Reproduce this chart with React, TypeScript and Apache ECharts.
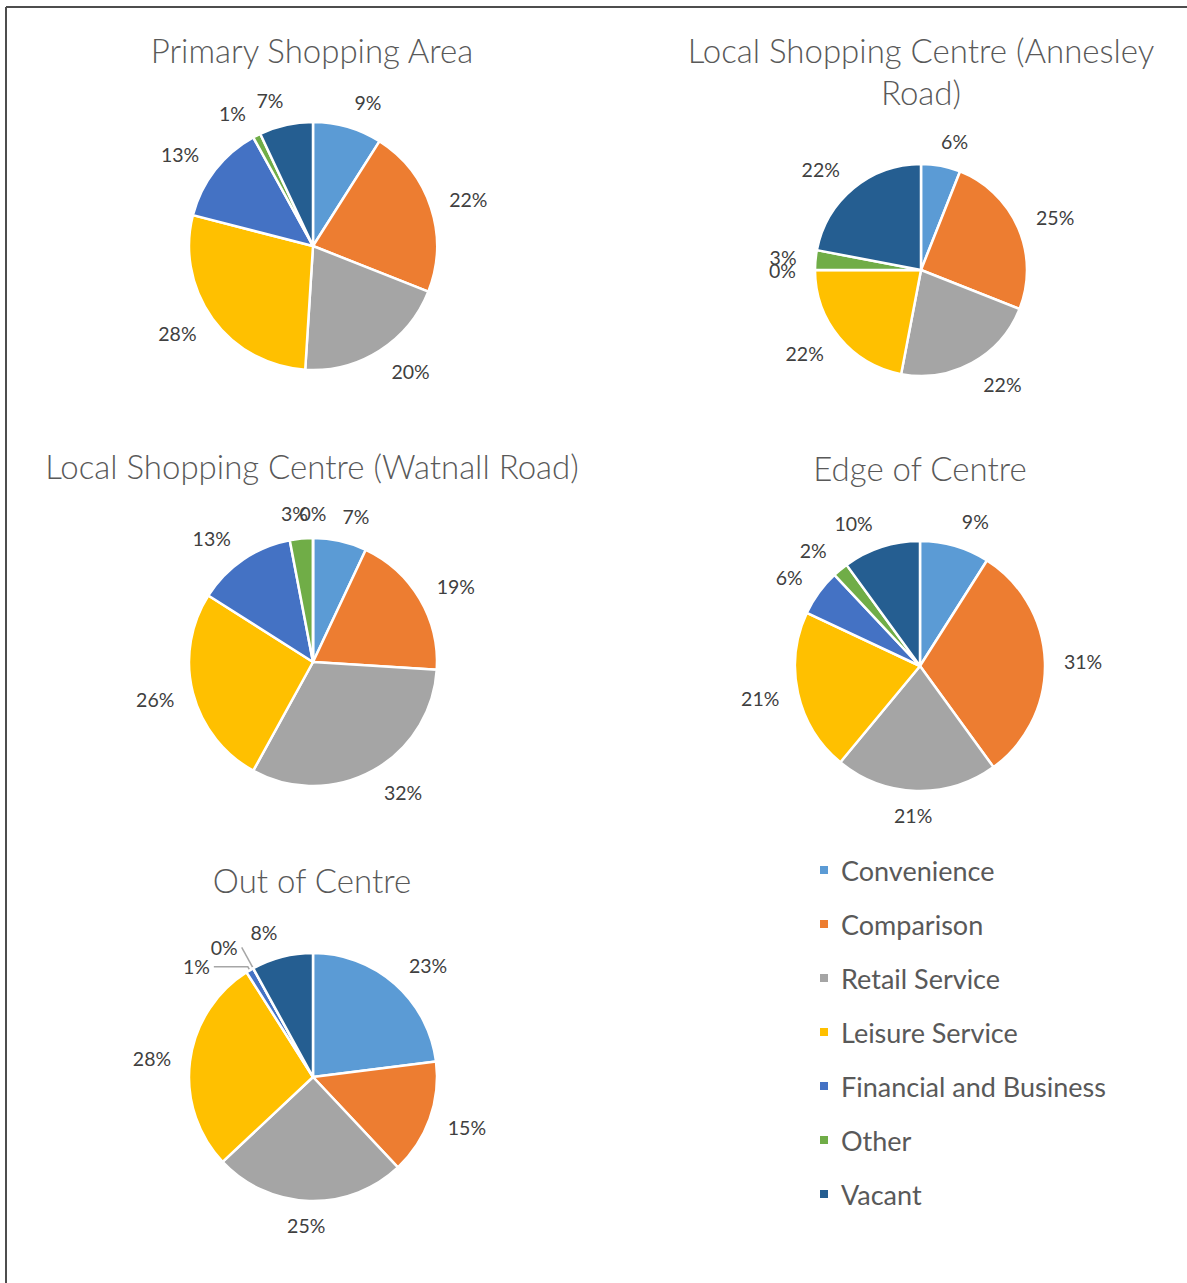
import React, { useEffect, useRef } from "react";
import * as echarts from "echarts";

const categories = [
  "Convenience",
  "Comparison",
  "Retail Service",
  "Leisure Service",
  "Financial and Business",
  "Other",
  "Vacant",
];

const colors = ["#5B9BD5", "#ED7D31", "#A5A5A5", "#FFC000", "#4472C4", "#70AD47", "#255E91"];

const chartTitles = [
  "Primary Shopping Area",
  "Local Shopping Centre (Annesley\nRoad)",
  "Local Shopping Centre (Watnall Road)",
  "Edge of Centre",
  "Out of Centre",
];

const primaryShoppingArea = [9, 22, 20, 28, 13, 1, 7];
const annesleyRoad = [6, 25, 22, 22, 0, 3, 22];
const watnallRoad = [7, 19, 32, 26, 13, 3, 0];
const edgeOfCentre = [9, 31, 21, 21, 6, 2, 10];
const outOfCentre = [23, 15, 25, 28, 1, 0, 8];

const FONT = "Lato";
const LABEL_GAP = 4;

export default function App() {
  const ref = useRef<HTMLDivElement>(null);

  useEffect(() => {
    if (!ref.current) return;
    const chart = echarts.init(ref.current, null, { renderer: "svg" });

    const datasets = [primaryShoppingArea, annesleyRoad, watnallRoad, edgeOfCentre, outOfCentre];
    const layouts = [
      { center: [313, 246], r: 124, titleX: 312, titleY: 29 },
      { center: [921, 270], r: 106, titleX: 921, titleY: 29 },
      { center: [313, 662], r: 124, titleX: 312, titleY: 445 },
      { center: [920, 666], r: 125, titleX: 920, titleY: 447 },
      { center: [313, 1077], r: 124, titleX: 312, titleY: 859 },
    ];

    // per-item overrides (series index - category index)
    const itemOverrides: Record<string, any> = {
      "4-4": { labelLine: { show: true, length: 4, length2: 34 } },
      "4-5": { labelLine: { show: true, length: 24, length2: 0 } },
    };

    // Nudge library-placed labels so they sit like Excel's "best fit" labels:
    // push them outward vertically by half their height and centre labels near the vertical axis.
    const makeLabelLayout = (si: number) => (params: any) => {
      if (itemOverrides[`${si}-${params.dataIndex}`]) return {};
      const rect = params.labelRect;
      if (!rect) return {};
      const s = params.align === "right" ? -1 : 1;
      const ax = s === 1 ? rect.x - LABEL_GAP : rect.x + rect.width + LABEL_GAP;
      const ay = rect.y + rect.height / 2;
      const c = layouts[si].center;
      const vx = ax - c[0];
      const vy = ay - c[1];
      const len = Math.sqrt(vx * vx + vy * vy) || 1;
      const ux = vx / len;
      const uy = vy / len;
      const f = Math.max(0, 1 - Math.abs(ux) / 0.3);
      return {
        dx: -s * (rect.width / 2 + LABEL_GAP) * f,
        dy: uy * (rect.height / 2),
      };
    };

    const series = datasets.map((vals, si) => ({
      type: "pie",
      name: chartTitles[si],
      center: layouts[si].center,
      radius: layouts[si].r,
      startAngle: 90,
      clockwise: true,
      avoidLabelOverlap: false,
      minShowLabelAngle: -1,
      labelLayout: makeLabelLayout(si),
      percentPrecision: 0,
      itemStyle: { borderColor: "#ffffff", borderWidth: 2.5 },
      label: {
        show: true,
        position: "outside",
        formatter: "{d}%",
        color: "#404040",
        fontSize: 19.5,
        fontFamily: FONT,
        distanceToLabelLine: LABEL_GAP,
      },
      labelLine: {
        show: false,
        length: 15,
        length2: 0,
        lineStyle: { color: "#A6A6A6", width: 1.5 },
      },
      emphasis: { disabled: true },
      data: vals.map((v, ci) => {
        const item: any = { name: categories[ci], value: v, itemStyle: { color: colors[ci] } };
        const ov = itemOverrides[`${si}-${ci}`];
        if (ov) Object.assign(item, ov);
        return item;
      }),
    }));

    chart.setOption({
      animation: false,
      backgroundColor: "#ffffff",
      title: chartTitles.map((t, i) => ({
        text: t,
        left: layouts[i].titleX,
        top: layouts[i].titleY,
        textAlign: "center",
        padding: 0,
        textStyle: {
          fontFamily: FONT,
          fontSize: 33,
          fontWeight: 300,
          color: "#595959",
          lineHeight: 42,
        },
      })),
      legend: {
        orient: "vertical",
        left: 813,
        top: 851,
        itemWidth: 10,
        itemHeight: 10,
        itemGap: 26,
        icon: "rect",
        selectedMode: false,
        data: categories,
        textStyle: {
          fontFamily: FONT,
          fontSize: 27,
          color: "#595959",
          lineHeight: 28,
          padding: [0, 0, 0, 7],
        },
      },
      graphic: [
        { type: "line", shape: { x1: 6, y1: 7, x2: 1187, y2: 7 }, style: { stroke: "#4d4d4d", lineWidth: 2 } },
        { type: "line", shape: { x1: 6, y1: 7, x2: 6, y2: 1283 }, style: { stroke: "#4d4d4d", lineWidth: 2 } },
      ],
      series,
    });

    return () => chart.dispose();
  }, []);

  return (
    <div
      ref={ref}
      style={{ position: "fixed", left: 0, top: 0, width: 1187, height: 1283, background: "#fff" }}
    />
  );
}
